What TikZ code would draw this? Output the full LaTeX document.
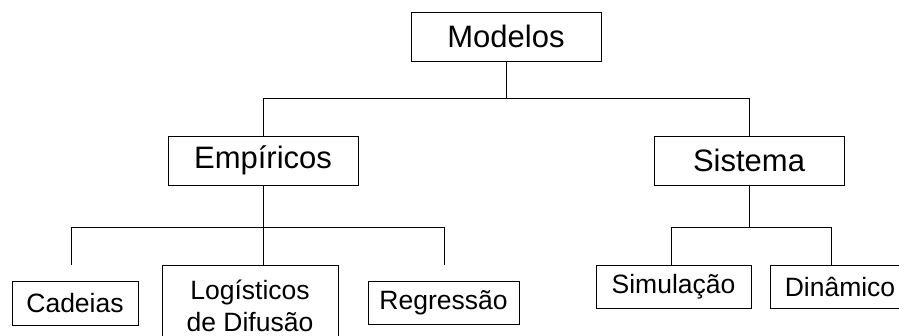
\documentclass[tikz,border=0pt]{standalone}
\usepackage{fontspec}
\setmainfont{Liberation Sans}
\usepackage{tikz}
\tikzstyle{box} = [draw, rectangle, inner sep=0pt, line width=0.8pt, font=\fontsize{31}{34}\selectfont]
\tikzstyle{leaf} = [box, font=\fontsize{26.5}{32}\selectfont]

\begin{document}
\begin{tikzpicture}[x=1pt,y=-1pt]
\tikzset{every path/.style={line width=0.8pt}}
\useasboundingbox (0,0) rectangle (899,336);

\node[box, minimum width=190pt, minimum height=49pt] (modelos) at (506,36.5) {Modelos};
\node[box, minimum width=190pt, minimum height=49pt] (empiricos) at (263,160.5) {Empíricos};
\node[box, minimum width=190pt, minimum height=49pt] (sistema) at (749,160.5) {Sistema};
\node[leaf, minimum width=126pt, minimum height=44pt] (cadeias) at (75,303) {Cadeias};
\node[leaf, minimum width=176pt, minimum height=82pt, align=center] (logisticos) at (250,306) {Logísticos\\de Difusão};
\node[leaf, minimum width=151pt, minimum height=43pt] (regressao) at (443.5,302.5) {Regressão};
\node[leaf, minimum width=155pt, minimum height=43pt] (simulacao) at (673.5,286.5) {Simulação};
\node[leaf, minimum width=140pt, minimum height=43pt] (dinamico) at (840,286.5) {Dinâmico};

\coordinate (b0) at (modelos.south |- 0,98);
\coordinate (b1) at (empiricos.south |- 0,227);
\coordinate (b2) at (sistema.south |- 0,227);
\coordinate (c1) at (71,265);
\coordinate (c2) at (b1 |- logisticos.north);
\coordinate (c3) at (444,265);
\coordinate (s1) at (671,265);
\coordinate (s2) at (831,265);

\draw (modelos.south) -- (b0);
\foreach \to in {empiricos,sistema}
{
	\draw (b0) -| (\to.north);
}
\draw (empiricos.south) -- (c2);
\foreach \to in {c1,c3}
{
	\draw (b1) -| (\to);
}
\draw (sistema.south) -- (b2);
\foreach \to in {s1,s2}
{
	\draw (b2) -| (\to);
}

\end{tikzpicture}
\end{document}
